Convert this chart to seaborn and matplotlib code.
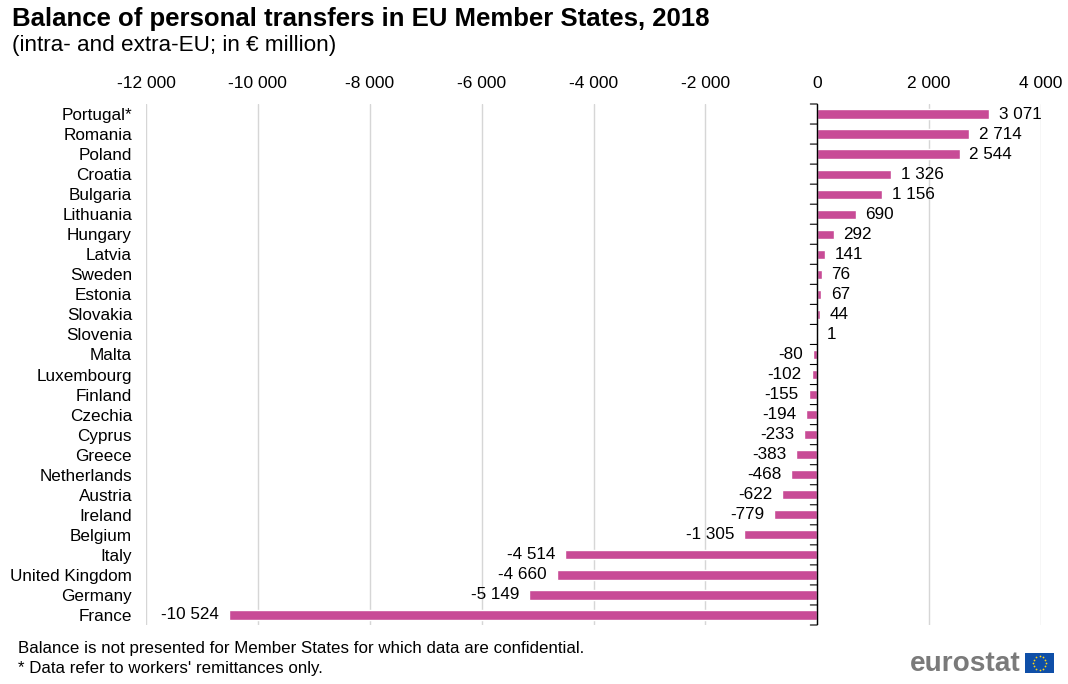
import matplotlib
matplotlib.use("Agg")
import matplotlib.pyplot as plt
import matplotlib.patches as mpatches
import numpy as np
import pandas as pd
import seaborn as sns

countries = ["Portugal*", "Romania", "Poland", "Croatia", "Bulgaria", "Lithuania", "Hungary",
             "Latvia", "Sweden", "Estonia", "Slovakia", "Slovenia", "Malta", "Luxembourg",
             "Finland", "Czechia", "Cyprus", "Greece", "Netherlands", "Austria", "Ireland",
             "Belgium", "Italy", "United Kingdom", "Germany", "France"]
balance = [3071, 2714, 2544, 1326, 1156, 690, 292, 141, 76, 67, 44, 1, -80, -102,
           -155, -194, -233, -383, -468, -622, -779, -1305, -4514, -4660, -5149, -10524]
x_ticks = [-12000, -10000, -8000, -6000, -4000, -2000, 0, 2000, 4000]

W, H = 1068, 684


def fmt(v):
    return f"{v:,}".replace(",", " ")


sns.set_theme(style="white")
plt.rcParams["font.family"] = ["Liberation Sans", "DejaVu Sans"]

df = pd.DataFrame({"country": countries, "balance": balance})

fig = plt.figure(figsize=(W / 100, H / 100), dpi=100)
ax = fig.add_axes([146 / W, 1 - 625 / H, (1041 - 146) / W, (625 - 104) / H])

sns.barplot(data=df, y="country", x="balance", orient="h", color="#c84b96", saturation=1,
            width=0.46, ax=ax, zorder=3)

ax.set_xlim(-12000, 4000)
ax.set_ylim(len(countries) - 0.5, -0.5)
ax.set_xticks(x_ticks)
ax.set_xticklabels([fmt(t) for t in x_ticks], fontsize=12.5, color="black")
ax.xaxis.tick_top()
ax.tick_params(axis="x", length=0, pad=9.5)
ax.set_xlabel("")
ax.set_ylabel("")
ax.xaxis.grid(True, color="#d6d6d6", linewidth=1)
ax.set_axisbelow(True)

# category names sit left of the plot, ticks sit on the zero line
ax.tick_params(axis="y", length=0, pad=10, labelsize=12.3, labelcolor="black")
for s in ["top", "right", "bottom", "left"]:
    ax.spines[s].set_visible(False)
ax.axvline(0, color="black", linewidth=1, zorder=4)
for b in np.arange(-0.5, len(countries)):
    ax.annotate("", xy=(0, b), xycoords="data", xytext=(-5, 0), textcoords="offset points",
                arrowprops=dict(arrowstyle="-", color="black", linewidth=0.8, shrinkA=0, shrinkB=0), zorder=4)

labels = [fmt(v) for v in balance]
ax.bar_label(ax.containers[0], labels=labels, padding=7, fontsize=12.3, color="black")

fig.text(12 / W, 1 - 19 / H, "Balance of personal transfers in EU Member States, 2018",
         fontsize=18.5, fontweight="bold", va="center", color="black")
fig.text(12 / W, 1 - 46 / H, "(intra- and extra-EU; in € million)", fontsize=16.2, va="center", color="black")
fig.text(18 / W, 1 - 648 / H, "Balance is not presented for Member States for which data are confidential.",
         fontsize=12.2, va="center", color="black")
fig.text(18 / W, 1 - 668 / H, "* Data refer to workers' remittances only.", fontsize=12.2, va="center", color="black")

# eurostat logo
fig.text(1021 / W, 1 - 664 / H, "eurostat", fontsize=20.2, fontweight="bold", color="#7a7a7a",
         ha="right", va="center")
flag = fig.add_axes([1025 / W, 1 - 673 / H, 29 / W, 20 / H])
flag.set_xlim(-1.45, 1.45)
flag.set_ylim(-1, 1)
flag.axis("off")
flag.add_patch(mpatches.Rectangle((-1.45, -1), 2.9, 2, color="#0f4fa8"))
angles = np.deg2rad(np.arange(0, 360, 30))
flag.scatter(0.66 * np.cos(angles), 0.66 * np.sin(angles), s=1.6, color="#ffd617", linewidths=0)

fig.savefig("out.png", dpi=100)
